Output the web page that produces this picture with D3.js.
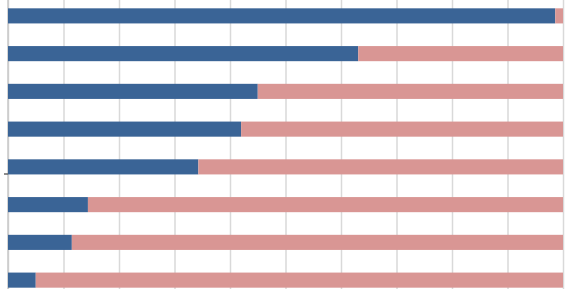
<!DOCTYPE html>
<html>
<head>
<meta charset="utf-8">
<script src="https://cdn.jsdelivr.net/npm/d3@7"></script>
<style>
  body { margin: 0; background: #fff; }
  .grid line { stroke: #d9d9d9; stroke-width: 1.5; }
  .grid path { display: none; }
</style>
</head>
<body>
<div id="vis"></div>
<script>
// set the width and height
var width = 566;
var height = 289;

var categories = ['c1', 'c2', 'c3', 'c4', 'c5', 'c6', 'c7', 'c8'];
var blue_share = [98.6, 63.1, 45.0, 42.0, 34.3, 14.4, 11.5, 5.0];
var pink_share = [1.4, 36.9, 55.0, 58.0, 65.7, 85.6, 88.5, 95.0];
var x_ticks = [0, 10, 20, 30, 40, 50, 60, 70, 80, 90, 100];

var svg = d3.select('#vis')
    .append('svg')
    .attr('width', width)
    .attr('height', height);

var x_scale = d3.scaleLinear()
    .domain([0, 100])
    .range([8, 563]);

var y_scale = d3.scaleBand()
    .domain(categories)
    .range([-3, 299])
    .paddingInner(0.6)
    .paddingOuter(0.3);

// vertical grid lines
svg.append('g')
    .attr('class', 'grid')
    .call(d3.axisBottom(x_scale)
        .tickValues(x_ticks)
        .tickSize(height)
        .tickFormat(''));

// left axis line
svg.append('line')
    .attr('x1', x_scale(0))
    .attr('x2', x_scale(0))
    .attr('y1', 0)
    .attr('y2', height)
    .attr('stroke', '#c8c8c8')
    .attr('stroke-width', 1.5);

svg.append('line')
    .attr('x1', 4)
    .attr('x2', x_scale(0))
    .attr('y1', 174)
    .attr('y2', 174)
    .attr('stroke', '#666')
    .attr('stroke-width', 1.5);

var rows = categories.map(function(c, i) {
    return { cat: c, blue: blue_share[i], pink: pink_share[i] };
});

svg.selectAll('.blue')
    .data(rows)
    .enter()
    .append('rect')
    .attr('class', 'blue')
    .attr('x', x_scale(0))
    .attr('y', function(d) { return y_scale(d.cat); })
    .attr('height', y_scale.bandwidth())
    .attr('width', function(d) { return x_scale(d.blue) - x_scale(0); })
    .attr('fill', '#3a6496');

svg.selectAll('.pink')
    .data(rows)
    .enter()
    .append('rect')
    .attr('class', 'pink')
    .attr('x', function(d) { return x_scale(d.blue); })
    .attr('y', function(d) { return y_scale(d.cat); })
    .attr('height', y_scale.bandwidth())
    .attr('width', function(d) { return x_scale(d.blue + d.pink) - x_scale(d.blue); })
    .attr('fill', '#d99694');
</script>
</body>
</html>
